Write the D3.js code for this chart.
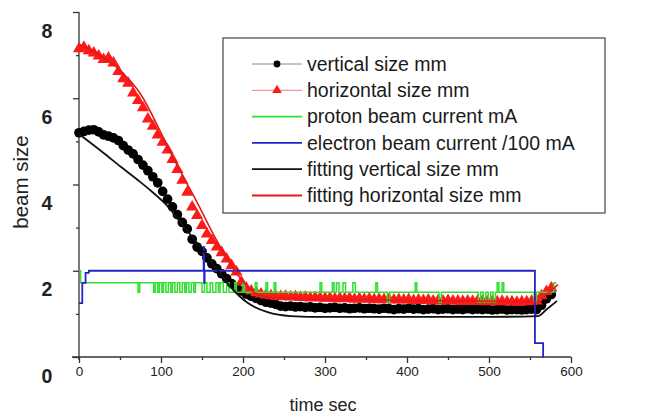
<!DOCTYPE html>
<html>
<head>
<meta charset="utf-8">
<script src="https://cdnjs.cloudflare.com/ajax/libs/d3/7.8.5/d3.min.js"></script>
<style>
  body { margin: 0; background: #fff; }
  svg { font-family: "Liberation Sans", Arial, sans-serif; }
  .axis line, .axis path { stroke: #333; stroke-width: 1.3; }
</style>
</head>
<body>
<div id="chart"></div>
<script>
// measured beam sizes (marker series), one value per marker time
var markTimes = [0,6,12,18,24,30,36,42,48,54,60,66,72,78,84,90,96,102,108,114,120,126,132,138,144,150,156,162,168,174,180,186,192,198,204,210,216,222,228,234,240,246,252,258,264,270,276,282,288,294,300,306,312,318,324,330,336,342,348,354,360,366,372,378,384,390,396,402,408,414,420,426,432,438,444,450,456,462,468,474,480,486,492,498,504,510,516,522,528,534,540,546,552,558,564,570,576];

var verticalSize = [5.2,5.23,5.26,5.27,5.22,5.15,5.12,5.08,5.02,4.9,4.8,4.71,4.58,4.45,4.32,4.18,4.04,3.84,3.66,3.48,3.3,3.12,2.97,2.73,2.55,2.45,2.3,2.16,2.05,1.93,1.82,1.7,1.61,1.53,1.46,1.41,1.36,1.31,1.27,1.25,1.22,1.18,1.17,1.18,1.16,1.17,1.15,1.16,1.14,1.15,1.13,1.14,1.15,1.13,1.14,1.12,1.13,1.14,1.12,1.13,1.12,1.11,1.13,1.12,1.1,1.12,1.11,1.13,1.11,1.12,1.1,1.11,1.12,1.1,1.11,1.12,1.1,1.11,1.1,1.12,1.1,1.11,1.1,1.11,1.09,1.1,1.11,1.09,1.1,1.1,1.09,1.1,1.11,1.1,1.2,1.35,1.45];

var horizontalSize = [7.15,7.18,7.1,7.05,6.98,6.9,6.93,6.82,6.62,6.45,6.35,6.12,5.95,5.78,5.52,5.35,5.15,4.98,4.8,4.58,4.35,4.1,3.82,3.48,3.28,3.05,2.85,2.7,2.55,2.42,2.27,2.12,1.97,1.74,1.6,1.53,1.49,1.46,1.44,1.42,1.41,1.4,1.41,1.39,1.4,1.38,1.39,1.37,1.38,1.37,1.36,1.37,1.35,1.36,1.35,1.36,1.34,1.35,1.34,1.35,1.33,1.34,1.33,1.34,1.32,1.33,1.32,1.33,1.31,1.32,1.31,1.32,1.3,1.31,1.3,1.31,1.3,1.3,1.29,1.3,1.29,1.3,1.29,1.28,1.29,1.28,1.29,1.28,1.28,1.27,1.28,1.28,1.29,1.3,1.42,1.52,1.6];

// fitted curves [time, size]
var fitVertical = [[0,5.17],[30,4.73],[51,4.41],[72,4.1],[88,3.85],[108,3.5],[128,3.02],[148,2.55],[169,2.02],[185,1.62],[206,1.25],[230,1.04],[258,0.95],[300,0.93],[400,0.93],[500,0.93],[560,0.95],[570,1.1],[583,1.3]];
var fitHorizontal = [[0,7.25],[25,7.0],[50,6.65],[75,6.1],[100,5.2],[112,4.73],[128,4.15],[145,3.55],[161,2.95],[180,2.3],[200,1.75],[210,1.55],[222,1.42],[240,1.37],[300,1.34],[400,1.31],[500,1.29],[558,1.28],[570,1.45],[584,1.68]];

// beam currents, step series [time, value]
var protonCurrent = [[0,2.0],[2,1.72],[72,1.5],[74,1.72],[91,1.5],[93,1.72],[96,1.5],[98,1.72],[101,1.5],[103,1.72],[106,1.5],[109,1.72],[112,1.5],[114,1.72],[117,1.5],[120,1.72],[123,1.5],[126,1.72],[129,1.5],[131,1.72],[134,1.5],[137,1.72],[140,1.5],[142,1.72],
  [150,1.5],[153,1.72],[156,1.5],[160,1.72],[163,1.5],[167,1.72],[170,1.5],[172,1.72],[176,1.5],[180,1.72],[183,1.5],[190,1.72],[192,1.5],[200,1.72],[202,1.5],[215,1.72],[217,1.5],[228,1.72],[230,1.5],[238,1.72],[240,1.5],
  [294,1.72],[296,1.5],[309,1.72],[311,1.5],[314,1.72],[317,1.5],[322,1.72],[325,1.5],[334,1.72],[337,1.5],
  [362,1.72],[364,1.5],[376,1.27],[379,1.5],[410,1.72],[412,1.5],[439,1.27],[442,1.5],
  [487,1.27],[490,1.5],[493,1.27],[496,1.5],[499,1.27],[502,1.5],[505,1.27],[508,1.5],[510,1.72],[512,1.5],[516,1.72],[518,1.5],
  [555,1.27],[558,1.5],[579,1.72],[582,1.72]];
var electronCurrent = [[0,1.25],[4,1.72],[8,1.95],[12,2.0],[152,2.55],[152.6,1.72],[153.2,2.0],[556,0.32],[566,0],[567,0]];

var xTicks = [0,100,200,300,400,500,600];
var xMinor = [50,150,250,350,450,550];
var yTicks = [0,2,4,6,8];
var yMinor = [1,3,5,7];
var legendLabels = ["vertical size mm","horizontal size mm","proton beam current mA","electron beam current /100 mA","fitting vertical size mm","fitting horizontal size mm"];

var svg = d3.select("#chart").append("svg").attr("width", 650).attr("height", 414);

var x = d3.scaleLinear().domain([0, 600]).range([79, 571]),
    y = d3.scaleLinear().domain([0, 8]).range([357, 12]);

var red = "#ff1a1a", green = "#2fe02f", blue = "#2424c8";

// axes
var gx = svg.append("g").attr("class", "axis").attr("transform", "translate(0,357)")
    .call(d3.axisBottom(x).tickValues(xTicks).tickSize(6).tickPadding(3));
gx.select(".domain").remove();
gx.selectAll("text").style("font-size", "13.5px").attr("fill", "#222");
var gx2 = svg.append("g").attr("class", "axis").attr("transform", "translate(0,357)")
    .call(d3.axisBottom(x).tickValues(xMinor).tickSize(3).tickFormat(""));
gx2.select(".domain").remove();

var gy = svg.append("g").attr("class", "axis").attr("transform", "translate(79,0)")
    .call(d3.axisLeft(y).tickValues(yTicks).tickSize(6));
gy.select(".domain").remove();
// the tick labels sit a little below their ticks in the original figure
gy.selectAll("text")
    .attr("x", -32).attr("y", 18).attr("dy", "0.36em")
    .style("text-anchor", "middle").style("font-size", "19.5px").style("font-weight", "bold").attr("fill", "#222");
var gy2 = svg.append("g").attr("class", "axis").attr("transform", "translate(79,0)")
    .call(d3.axisLeft(y).tickValues(yMinor).tickSize(3).tickFormat(""));
gy2.select(".domain").remove();

svg.append("line").attr("x1", 72).attr("x2", x(600)).attr("y1", y(0)).attr("y2", y(0))
    .attr("stroke", "#333").attr("stroke-width", 1.3);
svg.append("line").attr("x1", x(0)).attr("x2", x(0)).attr("y1", y(8)).attr("y2", y(0) + 3)
    .attr("stroke", "#333").attr("stroke-width", 1.3);

svg.append("text").attr("x", 323).attr("y", 405).attr("dy", "0.35em")
    .style("text-anchor", "middle").style("font-size", "18px").attr("fill", "#222").text("time sec");
svg.append("text").attr("transform", "translate(21,182) rotate(-90)").attr("dy", "0.35em")
    .style("text-anchor", "middle").style("font-size", "20.5px").attr("fill", "#222").text("beam size");

// markers
var circleSym = d3.symbol().type(d3.symbolCircle).size(74),
    triSym = d3.symbol().type(d3.symbolTriangle).size(64);

svg.append("g").selectAll("path")
    .data(markTimes)
  .enter().append("path")
    .attr("d", circleSym)
    .attr("fill", "#000")
    .attr("transform", function(d, i) { return "translate(" + x(d) + "," + y(verticalSize[i]) + ")"; });

svg.append("g").selectAll("path")
    .data(markTimes)
  .enter().append("path")
    .attr("d", triSym)
    .attr("fill", red)
    .attr("transform", function(d, i) { return "translate(" + x(d) + "," + y(horizontalSize[i]) + ")"; });

// lines
var stepLine = d3.line().curve(d3.curveStepAfter)
    .x(function(d) { return x(d[0]); })
    .y(function(d) { return y(d[1]); });
var smoothLine = d3.line().curve(d3.curveMonotoneX)
    .x(function(d) { return x(d[0]); })
    .y(function(d) { return y(d[1]); });

svg.append("path").datum(protonCurrent).attr("d", stepLine)
    .attr("fill", "none").attr("stroke", green).attr("stroke-width", 1.5);
svg.append("path").datum(electronCurrent).attr("d", stepLine)
    .attr("fill", "none").attr("stroke", blue).attr("stroke-width", 1.8);
svg.append("path").datum(fitVertical).attr("d", smoothLine)
    .attr("fill", "none").attr("stroke", "#111").attr("stroke-width", 1.8);
svg.append("path").datum(fitHorizontal).attr("d", smoothLine)
    .attr("fill", "none").attr("stroke", "#e21a1a").attr("stroke-width", 1.6);

// legend
var legend = svg.append("g");
legend.append("rect").attr("x", 223).attr("y", 38).attr("width", 382).attr("height", 175)
    .attr("fill", "#fff").attr("stroke", "#444").attr("stroke-width", 1.2);

var legendColors = ["#888", "#f08080", green, blue, "#111", "#e21a1a"],
    legendWidths = [1, 1, 1.8, 1.8, 1.8, 1.8];

var item = legend.selectAll(".item")
    .data(legendLabels)
  .enter().append("g")
    .attr("class", "item")
    .attr("transform", function(d, i) { return "translate(0," + (64 + i * 26.3) + ")"; });

item.append("line").attr("x1", 252).attr("x2", 302)
    .attr("stroke", function(d, i) { return legendColors[i]; })
    .attr("stroke-width", function(d, i) { return legendWidths[i]; });
item.append("text").attr("x", 307).attr("dy", "0.35em")
    .style("font-size", "19.5px").attr("fill", "#1a1a1a")
    .text(function(d) { return d; });

legend.select(".item").append("path").attr("d", d3.symbol().type(d3.symbolCircle).size(36))
    .attr("transform", "translate(277,0)").attr("fill", "#000");
d3.select(legend.selectAll(".item").nodes()[1]).append("path").attr("d", d3.symbol().type(d3.symbolTriangle).size(40))
    .attr("transform", "translate(277,0)").attr("fill", red);
</script>
</body>
</html>
